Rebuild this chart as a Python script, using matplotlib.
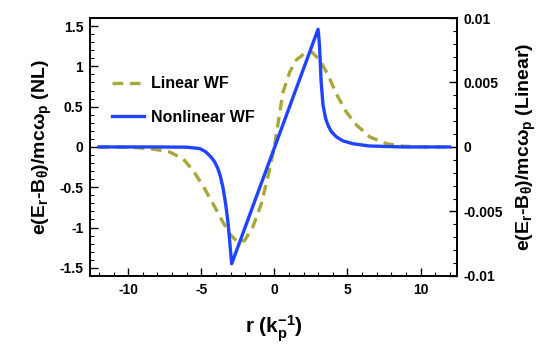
import matplotlib
matplotlib.use("Agg")
import matplotlib.pyplot as plt
from matplotlib.ticker import MultipleLocator

plt.rcParams['font.family'] = ['Liberation Sans', 'DejaVu Sans']
plt.rcParams['font.weight'] = 'bold'
plt.rcParams['mathtext.fontset'] = 'custom'
plt.rcParams['mathtext.rm'] = 'Liberation Sans:bold'
plt.rcParams['mathtext.it'] = 'Liberation Sans:bold'
plt.rcParams['mathtext.bf'] = 'Liberation Sans:bold'
plt.rcParams['axes.unicode_minus'] = False

# Nonlinear wakefield (left axis, NL units)
r_nl = [-12.0, -8.0, -6.0, -5.1, -4.7, -4.36, -4.1, -3.86, -3.7, -3.52, -3.38, -3.25,
        -3.15, -3.06, -2.92, 2.99, 3.05, 3.1, 3.2, 3.33, 3.5, 3.67, 3.9, 4.25, 4.7,
        5.38, 6.5, 8.8, 12.0]
f_nl = [0.0, 0.0, -0.003, -0.02, -0.06, -0.12, -0.18, -0.27, -0.36, -0.50, -0.65, -0.82,
        -0.98, -1.16, -1.45, 1.46, 1.35, 1.22, 0.81, 0.52, 0.36, 0.27, 0.19, 0.124, 0.075,
        0.04, 0.012, 0.0, 0.0]

# Linear wakefield (right axis, linear units)
r_lin = [-12.0, -10.0, -8.5, -7.2, -6.26, -5.58, -4.89, -4.2, -3.63, -3.06, -2.49,
         -2.03, -1.47, -0.89, -0.44, 0.0, 0.59, 1.05, 1.5, 2.07, 2.53, 3.1, 3.67, 4.25,
         4.93, 5.62, 6.53, 7.67, 8.8, 10.0, 12.0]
f_lin = [0.0, -0.00002, -0.000125, -0.000375, -0.0009, -0.0018, -0.003, -0.0044, -0.0056,
         -0.00675, -0.0074, -0.00725, -0.0062, -0.0044, -0.0023, 0.0, 0.00425, 0.0058,
         0.00675, 0.00725, 0.0074, 0.00675, 0.0056, 0.0041, 0.0027, 0.0017, 0.00078,
         0.00025, 0.00006, 0.0, 0.0]

x_ticks = [-10, -5, 0, 5, 10]
yl_ticks = [-1.5, -1, -0.5, 0, 0.5, 1, 1.5]
yl_labels = ['-1.5', '-1', '-0.5', '0', '0.5', '1', '1.5']
yr_ticks = [-0.01, -0.005, 0, 0.005, 0.01]
yr_labels = ['-0.01', '-0.005', '0', '0.005', '0.01']

fig = plt.figure(figsize=(5.5, 3.47), dpi=100)
ax = fig.add_axes([0.164, 0.205, 0.667, 0.743])
ax2 = ax.twinx()

blue = '#1f44ff'
olive = '#a9a63a'

ax.plot(r_nl, f_nl, color=blue, lw=2.4, solid_joinstyle='round', label='Nonlinear WF', zorder=3)
ax2.plot(r_lin, f_lin, color=olive, lw=2.4, ls=(0, (3.2, 2.0)), label='Linear WF', zorder=2)
ax.set_zorder(2)
ax.patch.set_visible(False)

ax.set_xlim(-12.6, 12.5)
ax.set_ylim(-1.6, 1.6)
ax2.set_ylim(-0.01, 0.01)

ax.set_xticks(x_ticks)
ax.set_xticklabels([str(t) for t in x_ticks])
ax.xaxis.set_minor_locator(MultipleLocator(1))
ax.set_yticks(yl_ticks)
ax.set_yticklabels(yl_labels)
ax.yaxis.set_minor_locator(MultipleLocator(0.1))
ax2.set_yticks(yr_ticks)
ax2.set_yticklabels(yr_labels)
ax2.yaxis.set_minor_locator(MultipleLocator(0.001))

for a in (ax, ax2):
    a.tick_params(which='major', direction='in', length=6, width=1, labelsize=10, pad=5)
    a.tick_params(which='minor', direction='in', length=3, width=0.8)
    for s in a.spines.values():
        s.set_linewidth(1.2)
ax.tick_params(axis='x', which='both', top=False)
ax.tick_params(axis='y', which='both', right=False)

ax.set_xlabel(r'r (k$_p^{-1}$)', fontsize=15, fontweight='bold', labelpad=12)
ax.set_ylabel(r'e(E$_r$-B$_\theta$)/mc$\omega_p$ (NL)', fontsize=14, fontweight='bold', labelpad=4)
ax2.set_ylabel(r'e(E$_r$-B$_\theta$)/mc$\omega_p$ (Linear)', fontsize=14, fontweight='bold',
               rotation=90, labelpad=8)

h1, l1 = ax2.get_legend_handles_labels()
h2, l2 = ax.get_legend_handles_labels()
leg = ax.legend(h1 + h2, l1 + l2, loc='upper left', bbox_to_anchor=(0.02, 0.83),
                frameon=False, fontsize=11.5, handlelength=2.0, handletextpad=0.45,
                labelspacing=1.15)
for t in leg.get_texts():
    t.set_fontweight('bold')

fig.savefig('out.png', dpi=100)
